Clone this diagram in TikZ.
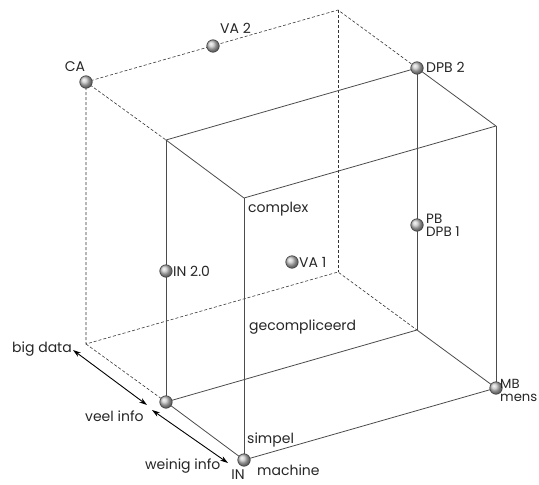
\documentclass[tikz,border=0pt]{standalone}
\usepackage{fontspec}
\setmainfont{Poppins}
\usetikzlibrary{arrows.meta}
\begin{document}
\begin{tikzpicture}[x=1pt,y=-1pt,
  edge/.style={draw=black!70, line width=0.8pt},
  hidden/.style={draw=black!80, line width=0.6pt, dash pattern=on 3pt off 2pt},
  ball/.style={circle, minimum size=12.5pt, inner sep=0pt, shading=ball, ball color=gray!45, draw=black!75, line width=0.6pt},
  lbl/.style={font=\fontsize{14}{14}\selectfont, text=black!85, inner sep=0pt},
  two/.style={font=\fontsize{13.5}{13}\selectfont, align=left},
  dbl/.style={line width=0.9pt, {Stealth[length=8pt,width=5pt]}-{Stealth[length=8pt,width=5pt]}}]
\useasboundingbox (0,0) rectangle (539,485);
% back (dashed) cube
\coordinate (A1) at (86,82);
\coordinate (A2) at (338,10);
\coordinate (A3) at (417,68);
\coordinate (A4) at (166,140);
\coordinate (B1) at (86,344);
\coordinate (B2) at (338,272);
\coordinate (B3) at (417,330);
\coordinate (B4) at (166,402);
% front (solid) cube
\coordinate (C1) at (166,140);
\coordinate (C2) at (417,68);
\coordinate (C3) at (496,126);
\coordinate (C4) at (244,198);
\coordinate (D1) at (166,402);
\coordinate (D2) at (417,330);
\coordinate (D3) at (496,388);
\coordinate (D4) at (244,460);
% dashed edges
\draw[hidden] (A1) -- (A2) -- (A3);
\draw[hidden] (A1) -- (A4);
\draw[hidden] (A1) -- (B1) -- (B2) -- (B3);
\draw[hidden] (B1) -- (B4);
\draw[hidden] (A2) -- (B2);
% solid edges
\draw[edge] (C1) -- (C2) -- (C3) -- (C4) -- cycle;
\draw[edge] (D1) -- (D2) -- (D3) -- (D4) -- cycle;
\draw[edge] (C1) -- (D1);
\draw[edge] (C2) -- (D2);
\draw[edge] (C3) -- (D3);
\draw[edge] (C4) -- (D4);
% balls
\node[ball] (ca) at (A1) {};
\node[ball] (va2) at (213,46) {};
\node[ball] (dpb2) at (C2) {};
\node[ball] (pb) at (417,225) {};
\node[ball] (in20) at (166,271) {};
\node[ball] (va1) at (292,262) {};
\node[ball] (veel) at (D1) {};
\node[ball] (mb) at (D3) {};
\node[ball] (in) at (D4) {};
% labels
\node[lbl] (tca) at (75,67) {CA};
\node[lbl, anchor=west] (tva2) at (220,28) {VA 2};
\node[lbl, anchor=west] (tdpb2) at (426,67) {DPB 2};
\node[lbl, two, anchor=west] (tpb) at (426,225) {PB\\DPB 1};
\node[lbl, anchor=west] (tin20) at (173,271) {IN 2.0};
\node[lbl, anchor=west] (tva1) at (299,262) {VA 1};
\node[lbl, anchor=west] (tcomplex) at (248,209) {complex};
\node[lbl, anchor=west] (tgec) at (249,327) {gecompliceerd};
\node[lbl, anchor=west] (tsimpel) at (247,440) {simpel};
\node[lbl, anchor=west] (tmachine) at (257,470) {machine};
\node[lbl] (tin) at (238,475) {IN};
\node[lbl, two, anchor=west, font=\fontsize{13.2}{13}\selectfont] (tmb) at (500,390) {MB\\mens};
\node[lbl, anchor=west] (tbig) at (12,349) {big data};
\node[lbl, anchor=west] (tveel) at (85,416) {veel info};
\node[lbl, anchor=west] (twein) at (145,466) {weinig info};
% arrows
\coordinate (a1) at (73,350);
\coordinate (a2) at (147,405);
\coordinate (a3) at (152,410);
\coordinate (a4) at (228,463);
\draw[dbl] (a1) -- (a2);
\draw[dbl] (a3) -- (a4);
\end{tikzpicture}
\end{document}
